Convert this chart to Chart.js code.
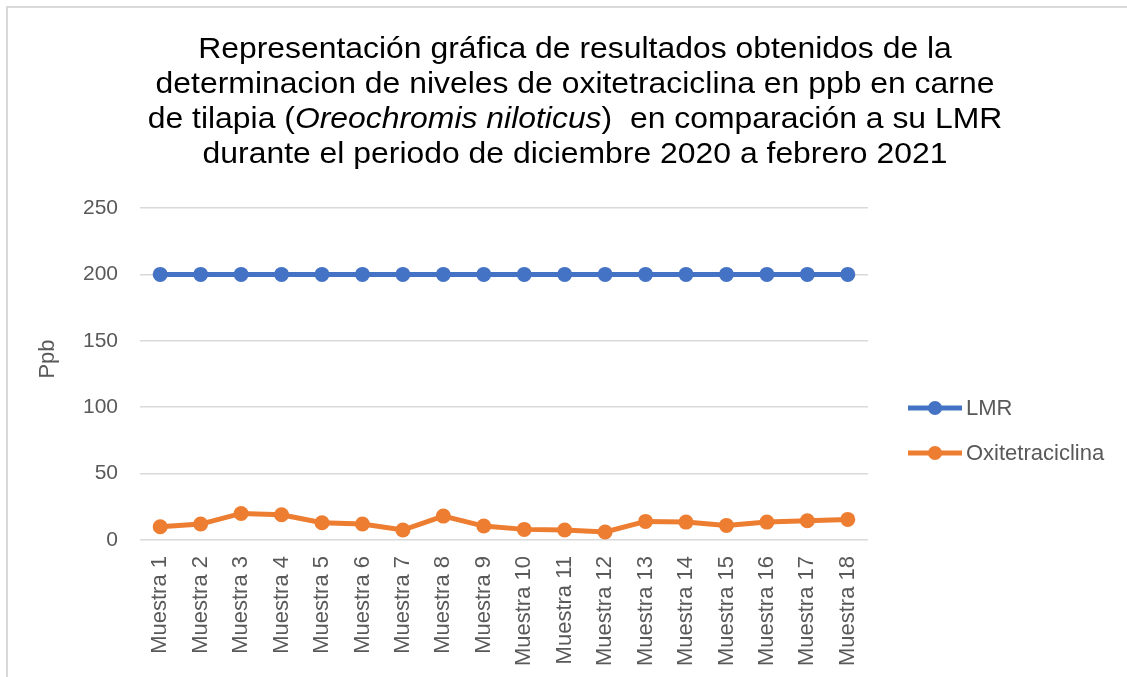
<!DOCTYPE html>
<html>
<head>
<meta charset="utf-8">
<script src="https://cdn.jsdelivr.net/npm/chart.js@4"></script>
<style>
    html, body { margin: 0; padding: 0; background: #fff; overflow: hidden; }
    #wrap { position: relative; width: 1127px; height: 677px; }
    #chart { position: absolute; left: 0; top: 0; }
    #title {
        position: absolute; left: 23px; top: 31px; width: 1104px;
        text-align: center; font-family: "Liberation Sans", Arial, sans-serif;
        font-size: 29px; line-height: 35px; color: #000;
        transform: scaleX(1.1); transform-origin: 552px 0;
    }
</style>
</head>
<body>
<div id="wrap">
    <canvas id="chart" width="1127" height="677"></canvas>
    <div id="title">
        Representación gráfica de resultados obtenidos de la<br>
        determinacion de niveles de oxitetraciclina en ppb en carne<br>
        de tilapia (<i>Oreochromis niloticus</i>)&nbsp; en comparación a su LMR<br>
        durante el periodo de diciembre 2020 a febrero 2021
    </div>
</div>
<script>
// Datos
const muestras = ["Muestra 1", "Muestra 2", "Muestra 3", "Muestra 4", "Muestra 5", "Muestra 6",
    "Muestra 7", "Muestra 8", "Muestra 9", "Muestra 10", "Muestra 11", "Muestra 12",
    "Muestra 13", "Muestra 14", "Muestra 15", "Muestra 16", "Muestra 17", "Muestra 18"];
const lmr = [200, 200, 200, 200, 200, 200, 200, 200, 200, 200, 200, 200, 200, 200, 200, 200, 200, 200];
const oxitetraciclina = [10, 12, 20, 19, 13, 12, 7.5, 18, 10.5, 8, 7.5, 6, 14, 13.5, 11, 13.5, 14.5, 15.5];
const yTicks = [0, 50, 100, 150, 200, 250];

const FONT = "'Liberation Sans', Arial, sans-serif";
const GRIS = "#595959";

// Borde del área del gráfico (solo arriba e izquierda visibles)
const borderPlugin = {
    id: "frameBorder",
    beforeDraw(chart) {
        const ctx = chart.ctx;
        ctx.save();
        ctx.strokeStyle = "#d9d9d9";
        ctx.lineWidth = 2;
        ctx.beginPath();
        ctx.moveTo(7, 677);
        ctx.lineTo(7, 7);
        ctx.lineTo(1127, 7);
        ctx.stroke();
        ctx.restore();
    }
};

// Título del eje Y y leyenda a la derecha con línea y marcador
const sideLegend = {
    id: "sideLegend",
    afterDraw(chart) {
        const ctx = chart.ctx;
        ctx.save();
        ctx.translate(48, 359);
        ctx.rotate(-Math.PI / 2);
        ctx.fillStyle = GRIS;
        ctx.font = "22px " + FONT;
        ctx.textAlign = "center";
        ctx.textBaseline = "middle";
        ctx.fillText("Ppb", 0, 0);
        ctx.restore();

        const rows = [408, 453];
        ctx.save();
        chart.data.datasets.forEach((ds, i) => {
            const y = rows[i];
            ctx.strokeStyle = ds.borderColor;
            ctx.lineWidth = ds.borderWidth;
            ctx.beginPath();
            ctx.moveTo(908, y);
            ctx.lineTo(962, y);
            ctx.stroke();
            ctx.fillStyle = ds.borderColor;
            ctx.beginPath();
            ctx.arc(935, y, 7, 0, Math.PI * 2);
            ctx.fill();
            ctx.fillStyle = GRIS;
            ctx.font = "22px " + FONT;
            ctx.textAlign = "left";
            ctx.textBaseline = "middle";
            ctx.fillText(ds.label, 966, y + 1);
        });
        ctx.restore();
    }
};

new Chart(document.getElementById("chart"), {
    type: "line",
    data: {
        labels: muestras,
        datasets: [{
            label: "LMR",
            data: lmr,
            borderColor: "#4472C4",
            backgroundColor: "#4472C4",
            borderWidth: 5,
            pointRadius: 7.5,
            pointHoverRadius: 7.5,
            pointBorderWidth: 0,
            tension: 0
        }, {
            label: "Oxitetraciclina",
            data: oxitetraciclina,
            borderColor: "#ED7D31",
            backgroundColor: "#ED7D31",
            borderWidth: 5,
            pointRadius: 7.5,
            pointHoverRadius: 7.5,
            pointBorderWidth: 0,
            tension: 0
        }]
    },
    options: {
        responsive: false,
        animation: false,
        devicePixelRatio: 1,
        layout: { padding: { top: 208, right: 259, bottom: 0, left: 0 } },
        scales: {
            x: {
                offset: true,
                grid: { display: false },
                border: { display: false },
                ticks: {
                    color: GRIS,
                    font: { family: FONT, size: 22 },
                    minRotation: 90,
                    maxRotation: 90,
                    autoSkip: false,
                    padding: 8
                },
                afterFit(scale) { scale.height = 137; }
            },
            y: {
                min: 0,
                max: 250,
                afterBuildTicks(scale) { scale.ticks = yTicks.map(v => ({ value: v })); },
                grid: { color: "#d9d9d9", lineWidth: 1.5, drawTicks: false },
                border: { display: false },
                ticks: {
                    color: GRIS,
                    font: { family: FONT, size: 21 },
                    padding: 22
                },
                afterFit(scale) { scale.width = 140; }
            }
        },
        plugins: {
            legend: { display: false },
            title: { display: false },
            tooltip: { enabled: false }
        }
    },
    plugins: [borderPlugin, sideLegend]
});
</script>
</body>
</html>
